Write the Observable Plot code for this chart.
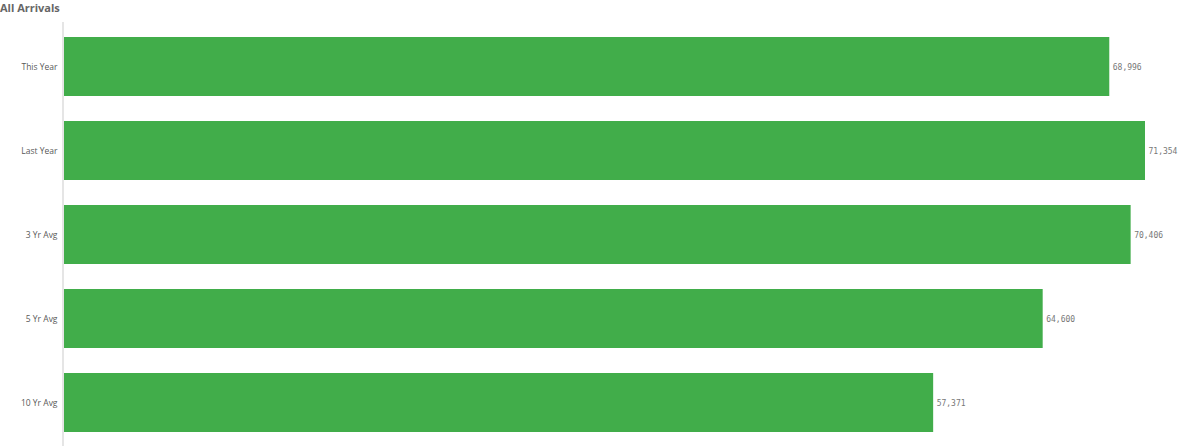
<!DOCTYPE html>
<html><head><meta charset="utf-8">
<script src="https://cdn.jsdelivr.net/npm/d3@7"></script>
<script src="https://cdn.jsdelivr.net/npm/@observablehq/plot@0.6"></script>
<style>
body{margin:0;background:#fff;font-family:"Open Sans",sans-serif;}
#title{height:18px;line-height:15px;font-size:11px;font-weight:bold;color:#666;padding-left:0;}
</style></head>
<body>
<div id="title">All Arrivals</div>
<div id="chart"></div>
<script>
const categories = ["This Year","Last Year","3 Yr Avg","5 Yr Avg","10 Yr Avg"];
const values = [68996, 71354, 70406, 64600, 57371];
const data = categories.map((c,i)=>({category:c, value:values[i]}));
const fmt = d3.format(",");
const chart = Plot.plot({
  width:1200, height:428,
  marginLeft:64, marginRight:55, marginTop:4, marginBottom:0,
  style:{fontFamily:"Open Sans, sans-serif", fontSize:"9px", color:"#595959"},
  x:{domain:[0, d3.max(values)], axis:null},
  y:{domain:categories, padding:0.3, paddingOuter:0.15, label:null},
  marks:[
    Plot.ruleX([0],{stroke:"#ddd", strokeWidth:1.5, dx:-1.5}),
    Plot.barX(data,{x:"value", y:"category", fill:"#41ad4a"}),
    Plot.axisY({tickSize:0, tickPadding:7, label:null, fontSize:8.5, fill:"#595959"}),
    Plot.text(data,{x:"value", y:"category", text:d=>fmt(d.value), textAnchor:"start", dx:3, fill:"#777", fontSize:8, fontFamily:"DejaVu Sans Mono, monospace"})
  ]
});
document.getElementById("chart").appendChild(chart);
</script>
</body></html>
